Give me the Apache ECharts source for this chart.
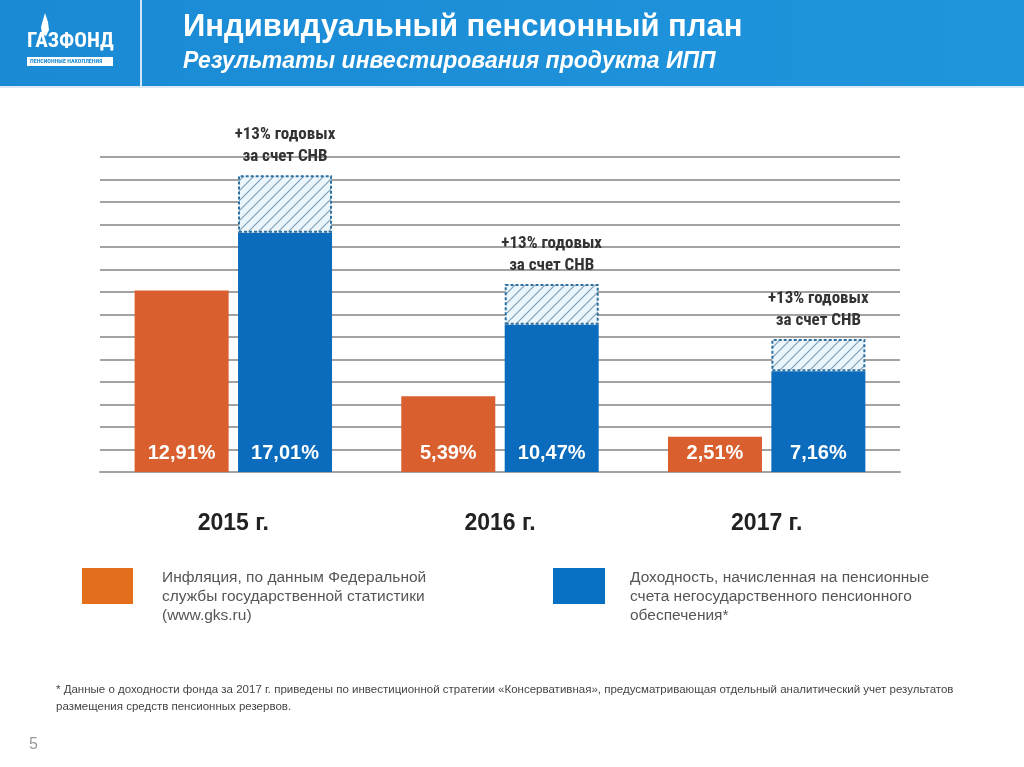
<!DOCTYPE html>
<html><head><meta charset="utf-8">
<script src="https://cdn.jsdelivr.net/npm/echarts@6/dist/echarts.min.js"></script>
<style>html,body{margin:0;padding:0;background:#fff}#c{width:1024px;height:767px}</style>
</head><body><div id="c"></div>
<script>
const categories = ['2015 г.', '2016 г.', '2017 г.'];
const inflation = [12.91, 5.39, 2.51];
const yieldVals = [17.01, 10.47, 7.16];
const snvExtra = [4.1, 2.9, 2.3];
const valueLabels = {inflation: ['12,91%', '5,39%', '2,51%'], yield: ['17,01%', '10,47%', '7,16%']};
const snvText = '+13% годовых\nза счет СНВ';
const legendInflation = 'Инфляция, по данным Федеральной\nслужбы государственной статистики\n(www.gks.ru)';
const legendYield = 'Доходность, начисленная на пенсионные\nсчета негосударственного пенсионного\nобеспечения*';
const footnote = '* Данные о доходности фонда за 2017 г. приведены по инвестиционной стратегии «Консервативная», предусматривающая отдельный аналитический учет результатов\nразмещения средств пенсионных резервов.';

const NARROW = "'Liberation Sans Narrow','Roboto Condensed','Liberation Sans',Arial,sans-serif";
const SANS = "'Liberation Sans',Arial,sans-serif";

// hatch pattern
const pc = document.createElement('canvas');
pc.width = 10; pc.height = 10;
const g = pc.getContext('2d');
g.fillStyle = '#eaf5fc'; g.fillRect(0, 0, 10, 10);
g.strokeStyle = '#7d9db4'; g.lineWidth = 1.1;
g.beginPath();
g.moveTo(0, 10); g.lineTo(10, 0);
g.moveTo(-2, 2); g.lineTo(2, -2);
g.moveTo(8, 12); g.lineTo(12, 8);
g.stroke();

const chart = echarts.init(document.getElementById('c'), null, {renderer: 'canvas'});
chart.setOption({
  backgroundColor: '#ffffff',
  animation: false,
  grid: {left: 100, right: 124, top: 157, bottom: 295},
  xAxis: {
    type: 'category', data: categories,
    axisLine: {lineStyle: {color: '#a3a3a3', width: 2}},
    axisTick: {show: false},
    axisLabel: {fontSize: 23, fontWeight: 'bold', color: '#222', margin: 40, fontFamily: SANS}
  },
  yAxis: {
    type: 'value', min: 0, max: 22.4, interval: 1.6,
    axisLine: {show: false}, axisTick: {show: false}, axisLabel: {show: false},
    splitLine: {lineStyle: {color: '#a3a3a3', width: 2}}
  },
  series: [
    {
      name: 'inflation', type: 'bar', data: inflation, barWidth: 94,
      itemStyle: {color: '#d95f2e'},
      label: {show: true, position: 'insideBottom', distance: 9, color: '#fff', fontSize: 20, fontWeight: 'bold', fontFamily: SANS,
        formatter: p => valueLabels.inflation[p.dataIndex]}
    },
    {
      name: 'yield', type: 'bar', stack: 'y', data: yieldVals, barWidth: 94, barGap: '10%',
      itemStyle: {color: '#0b6cbd'},
      label: {show: true, position: 'insideBottom', distance: 9, color: '#fff', fontSize: 20, fontWeight: 'bold', fontFamily: SANS,
        formatter: p => valueLabels.yield[p.dataIndex]}
    },
    {
      name: 'snv', type: 'bar', stack: 'y', data: snvExtra, barWidth: 94, barGap: '10%',
      itemStyle: {color: {image: pc, repeat: 'repeat'}, borderColor: '#2d6f9e', borderWidth: 2, borderType: [3, 2]},
      label: {show: true, position: 'top', distance: 7, color: '#333', fontSize: 17, fontWeight: 'bold', lineHeight: 22,
        fontFamily: NARROW, formatter: () => snvText}
    }
  ],
  graphic: [
    {type: 'rect', shape: {x: 0, y: 0, width: 1024, height: 86}, style: {fill: new echarts.graphic.LinearGradient(0, 0, 1, 0, [{offset: 0, color: '#1a8ad4'}, {offset: 1, color: '#1f95dc'}])}, z: 0},
    {type: 'rect', shape: {x: 140, y: 0, width: 2, height: 86}, style: {fill: '#cfe6f6'}},
    {type: 'rect', shape: {x: 0, y: 86, width: 1024, height: 2}, style: {fill: '#dbe9f3'}},
    // logo
    {type: 'polygon', shape: {points: [[45, 13], [48, 22], [49, 30], [46, 36], [42, 34], [41, 27]]}, style: {fill: '#fff'}},
    {type: 'text', left: 27, top: 31, style: {text: 'ГАЗФОНД', fill: '#fff', font: "bold 21px " + NARROW}},
    {type: 'rect', shape: {x: 27, y: 57, width: 86, height: 9}, style: {fill: '#fff'}},
    {type: 'text', left: 30, top: 58, style: {text: 'ПЕНСИОННЫЕ НАКОПЛЕНИЯ', fill: '#1a8ad4', font: "bold 6px " + NARROW}},
    // title
    {type: 'text', left: 183, top: 12, style: {text: 'Индивидуальный пенсионный план', fill: '#fff', font: "bold 31px " + SANS}},
    {type: 'text', left: 183, top: 50, style: {text: 'Результаты инвестирования продукта ИПП', fill: '#fff', font: "italic bold 23px " + SANS}},
    // legend
    {type: 'rect', shape: {x: 82, y: 568, width: 51, height: 36}, style: {fill: '#e36f1c'}},
    {type: 'text', left: 162, top: 568, style: {text: legendInflation, fill: '#555', font: "15.5px " + SANS, lineHeight: 19}},
    {type: 'rect', shape: {x: 553, y: 568, width: 52, height: 36}, style: {fill: '#0870c2'}},
    {type: 'text', left: 630, top: 568, style: {text: legendYield, fill: '#555', font: "15.5px " + SANS, lineHeight: 19}},
    // footnote
    {type: 'text', left: 56, top: 681, style: {text: footnote, fill: '#444', font: "11.5px " + SANS, lineHeight: 17}},
    {type: 'text', left: 29, top: 737, style: {text: '5', fill: '#999', font: "16px " + SANS}}
  ]
});
</script></body></html>
